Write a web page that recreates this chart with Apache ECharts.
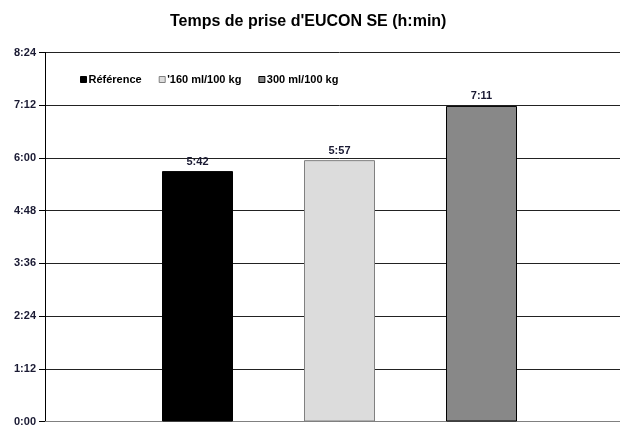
<!DOCTYPE html>
<html><head><meta charset="utf-8">
<script src="https://cdn.jsdelivr.net/npm/echarts@6/dist/echarts.min.js"></script>
<style>html,body{margin:0;padding:0;background:#fff;overflow:hidden;width:620px;height:427px}#c{width:634px;height:427px}</style>
</head><body><div id="c"></div>
<script>
const titleText = "Temps de prise d'EUCON SE (h:min)";
const categories = [''];
const seriesNames = ['Référence', "'160 ml/100 kg", '300 ml/100 kg'];
// values in minutes
const seriesValues = [[342], [357], [431]];
const seriesColors = ['#000000', '#dcdcdc', '#888888'];
const seriesBorders = ['#000000', '#808080', '#000000'];
const yMin = 0, yMax = 504, yInterval = 72;

function fmt(m){ const h=Math.floor(m/60), mm=Math.round(m%60); return h+':'+(mm<10?'0':'')+mm; }

const chart = echarts.init(document.getElementById('c'));
chart.setOption({
  animation:false,
  backgroundColor:'#fff',
  title:{text:titleText,left:165,top:9,textStyle:{fontFamily:'Liberation Sans, Arial',fontSize:16,fontWeight:'bold',color:'#000'}},
  legend:{left:75,top:69,itemWidth:6,itemHeight:6,itemGap:17,icon:'rect',
    textStyle:{fontFamily:'Liberation Sans, Arial',fontSize:11,fontWeight:'bold',color:'#000',padding:[0,0,0,-3]},
    data:seriesNames.map((n,i)=>({name:n,itemStyle:{color:seriesColors[i],borderColor:seriesBorders[i],borderWidth:1}}))},
  grid:{left:45,right:0,top:52.5,bottom:2.5,containLabel:false},
  xAxis:{type:'category',data:categories,axisTick:{show:false},axisLabel:{show:false},
    axisLine:{lineStyle:{color:'#808080',width:1}}},
  yAxis:{type:'value',min:yMin,max:yMax,interval:yInterval,
    axisLine:{show:true,lineStyle:{color:'#000',width:1}},
    axisTick:{show:true,length:6,lineStyle:{color:'#000'}},
    axisLabel:{formatter:v=>fmt(v),margin:9,fontFamily:'Liberation Sans, Arial',fontSize:11,fontWeight:'bold',color:'#1a1a33'},
    splitLine:{show:true,lineStyle:{color:'#222',width:1}}},
  series:seriesNames.map((n,i)=>({
    name:n,type:'bar',data:seriesValues[i],barWidth:71,barGap:'100%',
    itemStyle:{color:seriesColors[i],borderColor:seriesBorders[i],borderWidth:1},
    label:{show:true,position:'top',distance:4,formatter:p=>fmt(p.value),
      fontFamily:'Liberation Sans, Arial',fontSize:11,fontWeight:'bold',color:'#1a1a33'}
  }))
});
</script></body></html>
